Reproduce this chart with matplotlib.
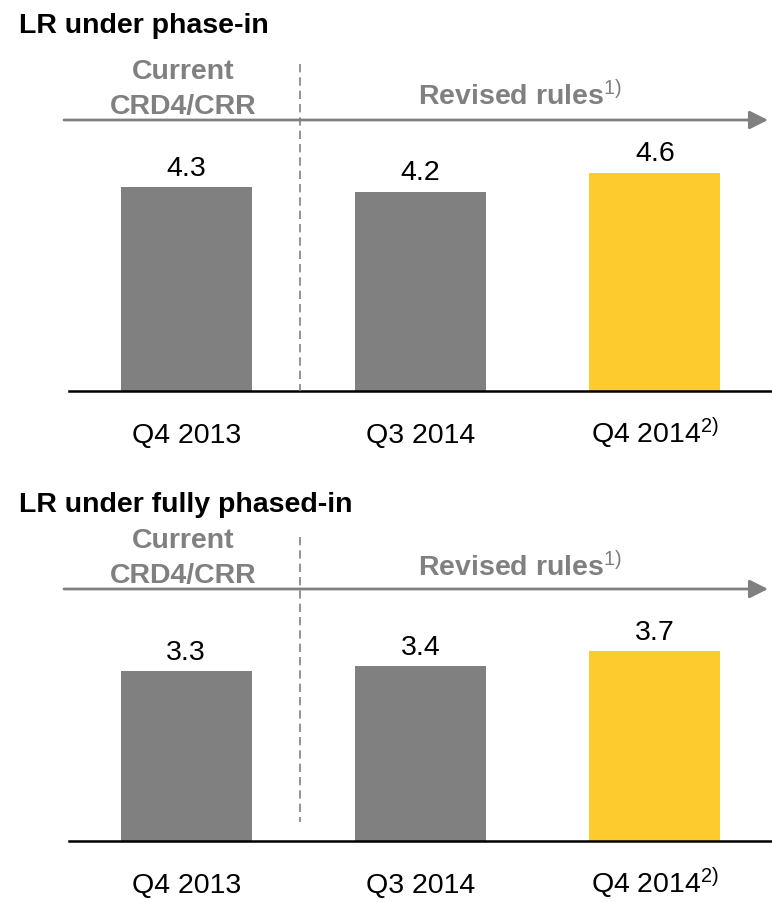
import matplotlib.pyplot as plt
from matplotlib.lines import Line2D
from matplotlib.patches import FancyArrowPatch

plt.rcParams['font.family'] = ['Liberation Sans', 'DejaVu Sans']
plt.rcParams['mathtext.fontset'] = 'custom'
plt.rcParams['mathtext.rm'] = 'Liberation Sans'
plt.rcParams['mathtext.it'] = 'Liberation Sans:italic'
plt.rcParams['mathtext.bf'] = 'Liberation Sans:bold'
plt.rcParams['mathtext.default'] = 'rm'

# Dati
quarters = ['Q4 2013', 'Q3 2014', 'Q4 2014$^{2)}$']
lr_phase_in = [4.3, 4.2, 4.6]
lr_fully = [3.3, 3.4, 3.7]
titles = ['LR under phase-in', 'LR under fully phased-in']
left_label = ['Current', 'CRD4/CRR']
right_label = 'Revised rules$^{1)}$'

GRAY = '#808080'
YELLOW = '#FECB2F'
colors = [GRAY, GRAY, YELLOW]
FS = 20.5

W, H = 772, 903
fig = plt.figure(figsize=(W / 100, H / 100), dpi=100)


def fx(px):
    return px / W


def fy(py):
    return 1 - py / H


def panel(values, title, y):
    # y: posizioni in pixel (dall'alto) degli elementi del pannello
    base = y['base']
    ax_top = y['title'] + 10
    ax = fig.add_axes([fx(69), fy(base), fx(772 - 69), (base - ax_top) / H])
    ax.bar(range(len(values)), values, width=0.56, color=colors)
    ax.bar_label(ax.containers[0], labels=[f'{v:.1f}' for v in values],
                 padding=4.5, fontsize=FS)
    ax.set_xlim(-0.5, 2.5)
    ax.set_ylim(0, (base - ax_top) / y['scale'])
    ax.set_xticks(range(len(values)), quarters, fontsize=FS)
    # etichette allineate sulla linea di base del testo
    ax.tick_params(axis='x', length=0, pad=37)
    for t in ax.get_xticklabels():
        t.set_va('baseline')
    ax.set_yticks([])
    for s in ['left', 'right', 'top']:
        ax.spines[s].set_visible(False)
    ax.spines['bottom'].set_linewidth(1.8)
    ax.spines['bottom'].set_color('black')

    fig.text(fx(19), fy(y['title']), title, fontsize=FS, fontweight='bold',
             va='baseline', ha='left')
    for line, yy in zip(left_label, y['left']):
        fig.text(fx(183), fy(yy), line, fontsize=FS, fontweight='bold',
                 color=GRAY, ha='center', va='baseline')
    fig.text(fx(520), fy(y['right']), right_label, fontsize=FS,
             fontweight='bold', color=GRAY, ha='center', va='baseline')
    # freccia
    fig.add_artist(FancyArrowPatch(
        (fx(64), fy(y['arrow'])), (fx(768), fy(y['arrow'])),
        transform=fig.transFigure, arrowstyle='-|>', mutation_scale=28,
        color=GRAY, lw=2.0, shrinkA=0, shrinkB=0))
    # linea tratteggiata
    fig.add_artist(Line2D([fx(300), fx(300)], [fy(y['dash'][0]), fy(y['dash'][1])],
                          transform=fig.transFigure, color=GRAY, lw=1.2,
                          linestyle=(0, (5, 3))))
    return ax


panel(lr_phase_in, titles[0],
      dict(title=33, left=(79, 114), right=105, arrow=121,
           dash=(65, 392), base=392, scale=47.5))
panel(lr_fully, titles[1],
      dict(title=512, left=(548, 583), right=576, arrow=590,
           dash=(538, 823), base=842, scale=51.4))

fig.savefig('out.png', dpi=100)
